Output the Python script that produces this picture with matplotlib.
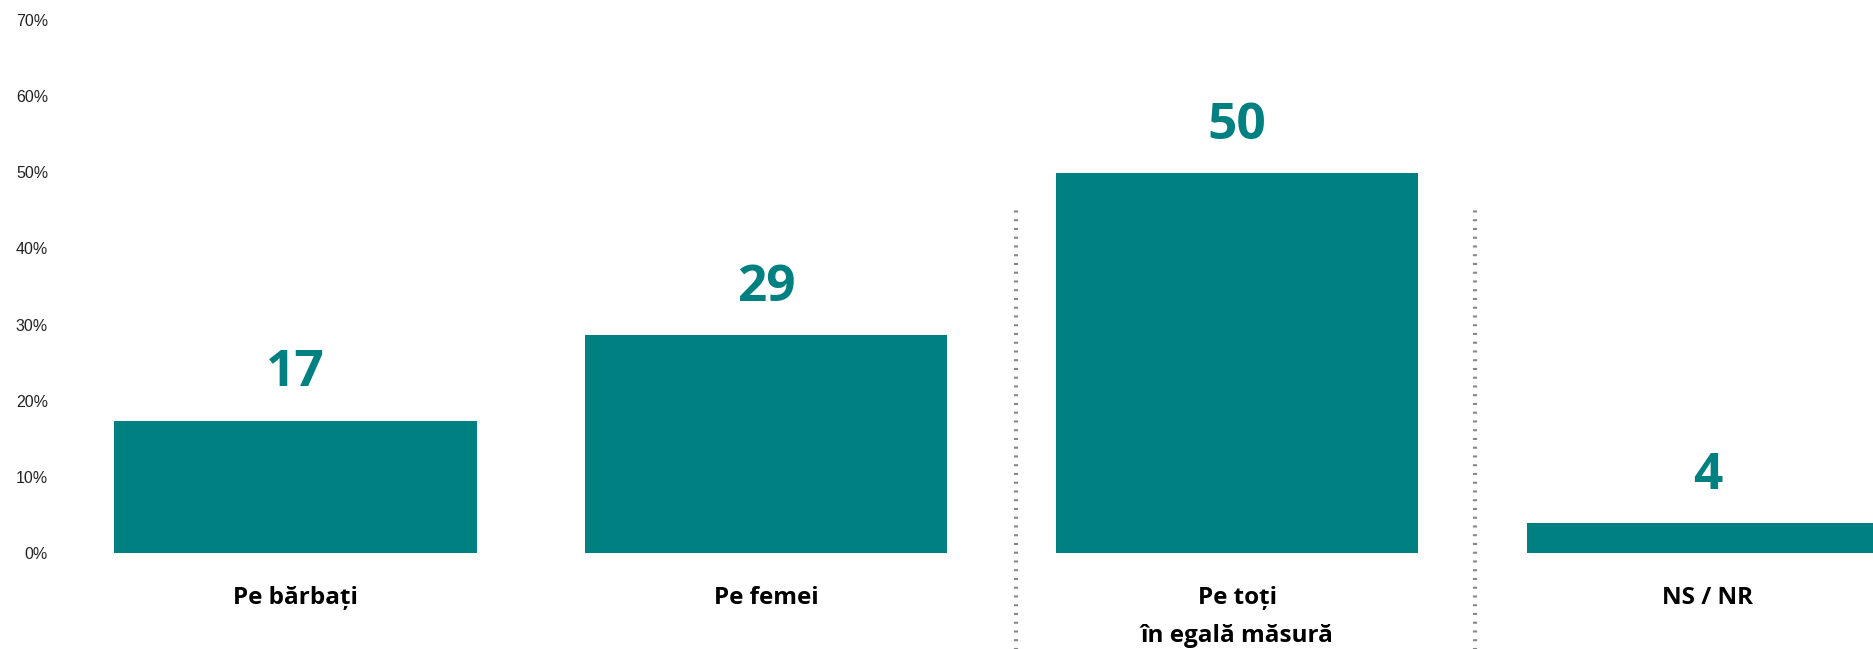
import matplotlib
matplotlib.use('Agg')
import matplotlib.pyplot as plt
import numpy as np

categories = ['Pe bărbați', 'Pe femei', 'Pe toți\nîn egală măsură', 'NS / NR']
values = [17.4, 28.6, 49.9, 3.9]
value_labels = ['17', '29', '50', '4']
yticks = [0, 10, 20, 30, 40, 50, 60, 70]
separators = [1.53, 2.505]

TEAL = '#008080'

fig = plt.figure(figsize=(18.74, 6.49), dpi=100)
ax = fig.add_axes([60 / 1874, 96 / 649, 1 - 60 / 1874, 533 / 649])

x = np.arange(len(categories))
bars = ax.bar(x, values, width=0.77, color=TEAL)

for xi, v, lab in zip(x, values, value_labels):
    ax.annotate(lab, (xi, v), xytext=(0, 24.5), textcoords='offset points',
                ha='center', va='baseline', fontsize=37, fontweight='bold',
                color=TEAL, family='Open Sans')

ax.set_xlim(-0.5, 3.353)
ax.set_ylim(0, 70)
ax.set_yticks(yticks)
ax.set_yticklabels([f'{t}%' for t in yticks], fontsize=11.5, color='#222222',
                   family='Liberation Sans')
ax.set_xticks(x)
ax.set_xticklabels(categories, fontsize=17.5, fontweight='bold', color='black',
                   family='Open Sans', linespacing=1.75)
ax.tick_params(axis='y', length=0, pad=8.6)
ax.tick_params(axis='x', length=0, pad=24)
for s in ax.spines.values():
    s.set_visible(False)

for sx in separators:
    ax.vlines(sx, -13, 45.5, colors='#888888', linestyles=(0, (0.5, 1.6)),
              linewidth=3, clip_on=False)

fig.savefig('out.png', dpi=100)
